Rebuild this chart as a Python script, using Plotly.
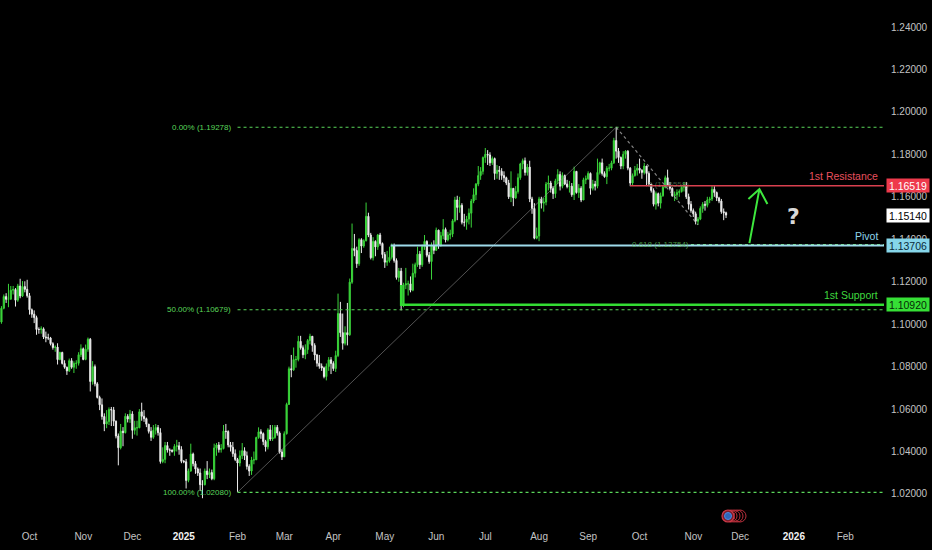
import pandas as pd
import plotly.graph_objects as go

# ---------------- data (EUR/USD daily) ----------------
first_open = 1.1010
closes = [
    1.1075,
    1.1130, 1.1117, 1.1118, 1.1160, 1.1163,
    1.1113, 1.1180, 1.1133, 1.1177, 1.1164,
    1.1134, 1.1068, 1.1047, 1.1031, 1.0975,
    1.0975, 1.0978, 1.0940, 1.0936, 1.0935,
    1.0908, 1.0890, 1.0892, 1.0833, 1.0867,
    1.0815, 1.0797, 1.0780, 1.0828, 1.0797,
    1.0815, 1.0816, 1.0856, 1.0884, 1.0834,
    1.0882, 1.0929, 1.0730, 1.0800, 1.0719,
    1.0655, 1.0620, 1.0565, 1.0530, 1.0541,
    1.0598, 1.0596, 1.0543, 1.0473, 1.0418,
    1.0496, 1.0489, 1.0566, 1.0553, 1.0577,
    1.0500, 1.0512, 1.0512, 1.0587, 1.0566,
    1.0555, 1.0529, 1.0495, 1.0467, 1.0500,
    1.0513, 1.0489, 1.0353, 1.0363, 1.0428,
    1.0407, 1.0406, 1.0401, 1.0424, 1.0427,
    1.0410, 1.0354, 1.0352, 1.0264, 1.0308,
    1.0388, 1.0343, 1.0318, 1.0299, 1.0244,
    1.0244, 1.0308, 1.0291, 1.0301, 1.0272,
    1.0417, 1.0431, 1.0409, 1.0414, 1.0496,
    1.0494, 1.0431, 1.0420, 1.0390, 1.0363,
    1.0346, 1.0380, 1.0404, 1.0380, 1.0330,
    1.0308, 1.0360, 1.0361, 1.0466, 1.0493,
    1.0484, 1.0447, 1.0422, 1.0502, 1.0459,
    1.0466, 1.0514, 1.0487, 1.0398, 1.0375,
    1.0484, 1.0622, 1.0790, 1.0785, 1.0833,
    1.0834, 1.0919, 1.0889, 1.0856, 1.0880,
    1.0923, 1.0943, 1.0900, 1.0855, 1.0816,
    1.0802, 1.0794, 1.0753, 1.0801, 1.0832,
    1.0815, 1.0791, 1.0852, 1.1050, 1.0960,
    1.0910, 1.0960, 1.0950, 1.1198, 1.1357,
    1.1347, 1.1285, 1.1398, 1.1368, 1.1393,
    1.1508, 1.1420, 1.1313, 1.1390, 1.1364,
    1.1420, 1.1380, 1.1328, 1.1292, 1.1298,
    1.1315, 1.1370, 1.1300, 1.1220, 1.1250,
    1.1090, 1.1185, 1.1190, 1.1190, 1.1160,
    1.1240, 1.1280, 1.1330, 1.1280, 1.1365,
    1.1390, 1.1325, 1.1295, 1.1370, 1.1348,
    1.1443, 1.1370, 1.1417, 1.1446, 1.1397,
    1.1420, 1.1425, 1.1487, 1.1585, 1.1550,
    1.1560, 1.1480, 1.1480, 1.1495, 1.1523,
    1.1580, 1.1610, 1.1660, 1.1700, 1.1720,
    1.1785, 1.1800, 1.1797, 1.1760, 1.1780,
    1.1710, 1.1725, 1.1720, 1.1700, 1.1690,
    1.1665, 1.1600, 1.1640, 1.1595, 1.1625,
    1.1690, 1.1755, 1.1770, 1.1715, 1.1740,
    1.1590, 1.1545, 1.1405, 1.1415, 1.1590,
    1.1570, 1.1575, 1.1660, 1.1665, 1.1640,
    1.1615, 1.1675, 1.1705, 1.1650, 1.1700,
    1.1660, 1.1648, 1.1650, 1.1610, 1.1720,
    1.1620, 1.1640, 1.1585, 1.1680, 1.1685,
    1.1710, 1.1640, 1.1660, 1.1650, 1.1715,
    1.1760, 1.1710, 1.1695, 1.1735, 1.1735,
    1.1760, 1.1865, 1.1815, 1.1785, 1.1745,
    1.1800, 1.1815, 1.1735, 1.1665, 1.1700,
    1.1725, 1.1735, 1.1725, 1.1715, 1.1745,
    1.1710, 1.1660, 1.1630, 1.1565, 1.1615,
    1.1570, 1.1605, 1.1645, 1.1690, 1.1655,
    1.1640, 1.1605, 1.1610, 1.1620, 1.1625,
    1.1645, 1.1655, 1.1600, 1.1565, 1.1535,
    1.1520, 1.1485, 1.1495, 1.1545, 1.1565,
    1.1560, 1.1585, 1.1590, 1.1635, 1.1620,
    1.1595, 1.1580, 1.1530, 1.1525, 1.1514,
]
highs = [
    1.1085,
    1.1140, 1.1146, 1.1190, 1.1180, 1.1180,
    1.1170, 1.1190, 1.1214, 1.1203, 1.1202,
    1.1209, 1.1147, 1.1074, 1.1065, 1.1040,
    1.0985, 1.0990, 1.0985, 1.0965, 1.0955,
    1.0940, 1.0915, 1.0900, 1.0910, 1.0870,
    1.0870, 1.0830, 1.0800, 1.0838, 1.0840,
    1.0825, 1.0830, 1.0868, 1.0905, 1.0890,
    1.0904, 1.0937, 1.0935, 1.0826, 1.0810,
    1.0727, 1.0663, 1.0650, 1.0580, 1.0595,
    1.0608, 1.0610, 1.0610, 1.0546, 1.0485,
    1.0530, 1.0515, 1.0580, 1.0576, 1.0596,
    1.0590, 1.0545, 1.0545, 1.0600, 1.0630,
    1.0595, 1.0560, 1.0530, 1.0515, 1.0525,
    1.0530, 1.0525, 1.0510, 1.0420, 1.0445,
    1.0445, 1.0415, 1.0410, 1.0435, 1.0455,
    1.0445, 1.0425, 1.0360, 1.0365, 1.0320,
    1.0437, 1.0395, 1.0355, 1.0325, 1.0320,
    1.0265, 1.0320, 1.0355, 1.0320, 1.0315,
    1.0437, 1.0440, 1.0445, 1.0435, 1.0525,
    1.0530, 1.0500, 1.0445, 1.0445, 1.0410,
    1.0370, 1.0405, 1.0440, 1.0420, 1.0400,
    1.0340, 1.0375, 1.0400, 1.0470, 1.0514,
    1.0505, 1.0490, 1.0455, 1.0510, 1.0525,
    1.0525, 1.0525, 1.0525, 1.0495, 1.0410,
    1.0495, 1.0630, 1.0800, 1.0855, 1.0890,
    1.0850, 1.0945, 1.0945, 1.0900, 1.0905,
    1.0930, 1.0955, 1.0940, 1.0910, 1.0860,
    1.0855, 1.0815, 1.0800, 1.0815, 1.0845,
    1.0845, 1.0825, 1.0875, 1.1144, 1.1105,
    1.1050, 1.0990, 1.1100, 1.1215, 1.1474,
    1.1425, 1.1365, 1.1405, 1.1405, 1.1400,
    1.1573, 1.1525, 1.1430, 1.1410, 1.1395,
    1.1425, 1.1430, 1.1385, 1.1340, 1.1345,
    1.1365, 1.1380, 1.1380, 1.1310, 1.1265,
    1.1265, 1.1195, 1.1265, 1.1205, 1.1225,
    1.1285, 1.1290, 1.1365, 1.1345, 1.1375,
    1.1420, 1.1395, 1.1340, 1.1385, 1.1395,
    1.1455, 1.1445, 1.1435, 1.1495, 1.1455,
    1.1435, 1.1445, 1.1495, 1.1600, 1.1605,
    1.1600, 1.1570, 1.1520, 1.1510, 1.1545,
    1.1590, 1.1640, 1.1665, 1.1745, 1.1740,
    1.1790, 1.1830, 1.1820, 1.1810, 1.1790,
    1.1785, 1.1750, 1.1745, 1.1735, 1.1720,
    1.1695, 1.1680, 1.1720, 1.1640, 1.1650,
    1.1710, 1.1760, 1.1780, 1.1785, 1.1755,
    1.1770, 1.1600, 1.1570, 1.1455, 1.1600,
    1.1600, 1.1595, 1.1670, 1.1700, 1.1675,
    1.1650, 1.1685, 1.1730, 1.1720, 1.1715,
    1.1705, 1.1680, 1.1675, 1.1665, 1.1742,
    1.1720, 1.1660, 1.1650, 1.1690, 1.1700,
    1.1720, 1.1715, 1.1680, 1.1675, 1.1780,
    1.1765, 1.1780, 1.1720, 1.1745, 1.1755,
    1.1770, 1.1878, 1.1924, 1.1830, 1.1790,
    1.1815, 1.1820, 1.1820, 1.1740, 1.1710,
    1.1745, 1.1755, 1.1780, 1.1730, 1.1760,
    1.1745, 1.1720, 1.1660, 1.1640, 1.1625,
    1.1620, 1.1620, 1.1655, 1.1700, 1.1728,
    1.1670, 1.1645, 1.1625, 1.1635, 1.1635,
    1.1655, 1.1670, 1.1670, 1.1615, 1.1580,
    1.1545, 1.1530, 1.1505, 1.1555, 1.1575,
    1.1580, 1.1600, 1.1600, 1.1655, 1.1650,
    1.1625, 1.1600, 1.1590, 1.1545, 1.1530,
]
lows = [
    1.1002,
    1.1070, 1.1100, 1.1080, 1.1115, 1.1140,
    1.1083, 1.1105, 1.1122, 1.1128, 1.1150,
    1.1125, 1.1045, 1.1030, 1.1005, 1.0950,
    1.0955, 1.0955, 1.0930, 1.0915, 1.0925,
    1.0900, 1.0880, 1.0870, 1.0810, 1.0830,
    1.0810, 1.0790, 1.0761, 1.0775, 1.0790,
    1.0770, 1.0790, 1.0805, 1.0845, 1.0830,
    1.0830, 1.0870, 1.0683, 1.0715, 1.0707,
    1.0650, 1.0595, 1.0550, 1.0496, 1.0510,
    1.0525, 1.0520, 1.0520, 1.0462, 1.0335,
    1.0410, 1.0425, 1.0485, 1.0537, 1.0535,
    1.0460, 1.0480, 1.0475, 1.0510, 1.0545,
    1.0540, 1.0515, 1.0485, 1.0450, 1.0460,
    1.0480, 1.0475, 1.0343, 1.0345, 1.0345,
    1.0395, 1.0380, 1.0395, 1.0380, 1.0400,
    1.0385, 1.0345, 1.0345, 1.0226, 1.0255,
    1.0305, 1.0330, 1.0295, 1.0285, 1.0214,
    1.0180, 1.0240, 1.0270, 1.0275, 1.0265,
    1.0265, 1.0380, 1.0395, 1.0395, 1.0410,
    1.0460, 1.0420, 1.0400, 1.0375, 1.0355,
    1.0210, 1.0330, 1.0365, 1.0360, 1.0315,
    1.0285, 1.0290, 1.0340, 1.0360, 1.0460,
    1.0460, 1.0430, 1.0400, 1.0410, 1.0450,
    1.0450, 1.0460, 1.0475, 1.0390, 1.0360,
    1.0375, 1.0480, 1.0620, 1.0750, 1.0780,
    1.0795, 1.0825, 1.0880, 1.0840, 1.0835,
    1.0860, 1.0905, 1.0870, 1.0830, 1.0800,
    1.0790, 1.0780, 1.0745, 1.0735, 1.0780,
    1.0765, 1.0780, 1.0775, 1.0845, 1.0940,
    1.0880, 1.0900, 1.0900, 1.0945, 1.1190,
    1.1320, 1.1265, 1.1275, 1.1335, 1.1360,
    1.1390, 1.1410, 1.1305, 1.1300, 1.1320,
    1.1350, 1.1370, 1.1310, 1.1265, 1.1275,
    1.1290, 1.1305, 1.1290, 1.1210, 1.1200,
    1.1065, 1.1080, 1.1165, 1.1135, 1.1150,
    1.1155, 1.1220, 1.1270, 1.1260, 1.1270,
    1.1350, 1.1315, 1.1285, 1.1210, 1.1330,
    1.1345, 1.1355, 1.1365, 1.1400, 1.1385,
    1.1390, 1.1400, 1.1410, 1.1480, 1.1490,
    1.1525, 1.1470, 1.1460, 1.1445, 1.1470,
    1.1455, 1.1570, 1.1585, 1.1650, 1.1680,
    1.1705, 1.1760, 1.1750, 1.1745, 1.1750,
    1.1680, 1.1685, 1.1680, 1.1680, 1.1670,
    1.1655, 1.1590, 1.1575, 1.1556, 1.1590,
    1.1615, 1.1680, 1.1730, 1.1700, 1.1700,
    1.1575, 1.1520, 1.1400, 1.1400, 1.1391,
    1.1545, 1.1530, 1.1560, 1.1630, 1.1620,
    1.1590, 1.1595, 1.1660, 1.1630, 1.1640,
    1.1655, 1.1640, 1.1620, 1.1600, 1.1585,
    1.1615, 1.1595, 1.1575, 1.1585, 1.1660,
    1.1680, 1.1610, 1.1630, 1.1630, 1.1640,
    1.1705, 1.1700, 1.1690, 1.1660, 1.1720,
    1.1725, 1.1755, 1.1780, 1.1760, 1.1730,
    1.1730, 1.1780, 1.1725, 1.1650, 1.1655,
    1.1695, 1.1700, 1.1710, 1.1685, 1.1705,
    1.1650, 1.1650, 1.1620, 1.1555, 1.1540,
    1.1555, 1.1545, 1.1600, 1.1640, 1.1650,
    1.1630, 1.1600, 1.1580, 1.1585, 1.1600,
    1.1620, 1.1625, 1.1590, 1.1540, 1.1525,
    1.1505, 1.1470, 1.1468, 1.1490, 1.1525,
    1.1535, 1.1550, 1.1570, 1.1580, 1.1600,
    1.1580, 1.1570, 1.1520, 1.1490, 1.1500,
]
first_day = "2024-09-13"
last_day = "2025-11-21"

# axis ticks
x_tick_dates = ["2024-10-01", "2024-11-01", "2024-12-02", "2025-01-01", "2025-02-03",
                "2025-03-03", "2025-04-01", "2025-05-01", "2025-06-02", "2025-07-01",
                "2025-08-01", "2025-09-01", "2025-10-01", "2025-11-03", "2025-12-01",
                "2026-01-01", "2026-02-02"]
x_tick_text = ["Oct", "Nov", "Dec", "<b><span style='color:#f2f2f2'>2025</span></b>", "Feb",
               "Mar", "Apr", "May", "Jun", "Jul", "Aug", "Sep", "Oct", "Nov", "Dec",
               "<b><span style='color:#f2f2f2'>2026</span></b>", "Feb"]
y_ticks = [1.02, 1.04, 1.06, 1.08, 1.10, 1.12, 1.14, 1.16, 1.18, 1.20, 1.22, 1.24]
x_range = ["2024-09-12 09:00", "2026-02-24 14:00"]
y_range = [1.00539, 1.25272]

# drawings
fib_start = "2025-02-03"
fib_levels = [1.19278, 1.10679, 1.02080]
fib_texts = ["0.00% (1.19278)", "50.00% (1.10679)", "100.00% (1.02080)"]
trend_x = ["2025-02-03", "2025-09-17"]
trend_y = [1.02080, 1.19278]
retr_x = ["2025-09-17", "2025-11-05"]
retr_y = [1.19278, 1.14680]
retr_label_day = "2025-10-31"
retr_levels = [1.16558, 1.13754]
retr_texts = ["0 (1.16558)", "0.618 (1.13754)"]
resistance_start, resistance = "2025-09-25", 1.16519
pivot_start, pivot = "2025-05-05 12:00", 1.13706
support_start, support, support_top = "2025-05-12", 1.10920, 1.11850
last_price = 1.15140
arrow_tail = ("2025-12-05", 1.13820)
question_pos = ("2026-01-01", 1.15050)

# ---------------- figure ----------------
dates = pd.bdate_range(first_day, last_day)
assert len(dates) == len(closes) == len(highs) == len(lows)
opens = [first_open] + closes[:-1]

UP = "#3ad43a"
DOWN = "#ececec"
FIBC = "#5ad65a"

fig = go.Figure()

# trend line of the fib tool
fig.add_trace(go.Scatter(x=trend_x, y=trend_y, mode="lines",
                         line=dict(color="rgba(150,150,150,0.55)", width=1),
                         hoverinfo="skip", showlegend=False))
# fib dotted levels
for lvl in fib_levels:
    fig.add_trace(go.Scatter(x=[fib_start, x_range[1]], y=[lvl, lvl], mode="lines",
                             line=dict(color=FIBC, width=1.2, dash="dot"),
                             hoverinfo="skip", showlegend=False))
# second fib: 0.618 dotted level
fig.add_trace(go.Scatter(x=[retr_label_day, x_range[1]], y=[retr_levels[1]] * 2, mode="lines",
                         line=dict(color=FIBC, width=1.2, dash="dot"),
                         hoverinfo="skip", showlegend=False))
# diagonal dotted of second fib
fig.add_trace(go.Scatter(x=retr_x, y=retr_y, mode="lines",
                         line=dict(color="rgba(175,175,175,0.75)", width=1.2, dash="dot"),
                         hoverinfo="skip", showlegend=False))

fig.add_trace(go.Candlestick(
    x=dates, open=opens, high=highs, low=lows, close=closes,
    increasing=dict(line=dict(color=UP, width=1), fillcolor=UP),
    decreasing=dict(line=dict(color=DOWN, width=1), fillcolor=DOWN),
    showlegend=False, hoverinfo="skip"))

# support / pivot / resistance
fig.add_trace(go.Scatter(x=[support_start, support_start, x_range[1]],
                         y=[support_top, support, support], mode="lines",
                         line=dict(color="#33dd33", width=2.5),
                         hoverinfo="skip", showlegend=False))
fig.add_trace(go.Scatter(x=[pivot_start, x_range[1]], y=[pivot, pivot], mode="lines",
                         line=dict(color="#9fdbeb", width=2),
                         hoverinfo="skip", showlegend=False))
fig.add_trace(go.Scatter(x=[resistance_start, x_range[1]], y=[resistance, resistance], mode="lines",
                         line=dict(color="#d9404f", width=1.5),
                         hoverinfo="skip", showlegend=False))

ann = []
FONT = "Liberation Sans"
for lvl, txt in zip(fib_levels, fib_texts):
    ann.append(dict(x=fib_start, y=lvl, xref="x", yref="y", text=txt, showarrow=False,
                    xanchor="right", yanchor="middle", xshift=-5,
                    font=dict(family=FONT, size=8, color=FIBC)))
ann.append(dict(x=retr_label_day, y=retr_levels[0], xref="x", yref="y", text=retr_texts[0],
                showarrow=False, xanchor="right", yanchor="middle",
                font=dict(family=FONT, size=8, color="rgba(110,150,110,0.6)")))
ann.append(dict(x=retr_label_day, y=retr_levels[1], xref="x", yref="y", text=retr_texts[1],
                showarrow=False, xanchor="right", yanchor="middle",
                font=dict(family=FONT, size=8, color="rgba(90,190,90,0.8)")))

for y, txt, col in [(resistance, "1st Resistance", "#e8505e"),
                    (pivot, "Pivot", "#8fd6ea"),
                    (support, "1st Support", "#3fd83f")]:
    ann.append(dict(x=0.9955, y=y, xref="paper", yref="y", text=txt, showarrow=False,
                    xanchor="right", yanchor="bottom", yshift=2,
                    font=dict(family=FONT, size=10.5, color=col)))

for y, txt, bg, fc in [(resistance, "1.16519", "#ee3a4c", "#ffffff"),
                       (last_price, "1.15140", "#ffffff", "#000000"),
                       (pivot, "1.13706", "#86d6ea", "#0b2a38"),
                       (support, "1.10920", "#36e036", "#062806")]:
    ann.append(dict(x=1, y=y, xref="paper", yref="y", text=txt, showarrow=False,
                    xanchor="left", yanchor="middle", xshift=2, width=42, height=13,
                    bgcolor=bg, borderpad=0, align="center",
                    font=dict(family=FONT, size=10.5, color=fc)))

ann.append(dict(x=question_pos[0], y=question_pos[1], xref="x", yref="y", text="<b>?</b>",
                showarrow=False, font=dict(family="DejaVu Sans", size=22, color="#d8d8d8")))

shapes = []
# green arrow
shapes.append(dict(type="path", xref="x", yref="y", xsizemode="pixel", ysizemode="pixel",
                   xanchor=arrow_tail[0], yanchor=arrow_tail[1],
                   path="M0,0 L10,54 M-1,44 L10,54 L18,39",
                   line=dict(color="#3ee83e", width=2)))
# event bubble icon at the bottom
cx, cy = 728 / 884, 9 / 525
for off in [12, 9, 6, 3]:
    shapes.append(dict(type="circle", xref="paper", yref="paper", xsizemode="pixel", ysizemode="pixel",
                       xanchor=cx, yanchor=cy, x0=off - 6, x1=off + 6, y0=-6, y1=6,
                       line=dict(color="#b8303c", width=1), fillcolor="rgba(0,0,0,0)"))
shapes.append(dict(type="circle", xref="paper", yref="paper", xsizemode="pixel", ysizemode="pixel",
                   xanchor=cx, yanchor=cy, x0=-6, x1=6, y0=-6, y1=6,
                   line=dict(color="#d03a48", width=1.2), fillcolor="#7a1c2a"))
shapes.append(dict(type="circle", xref="paper", yref="paper", xsizemode="pixel", ysizemode="pixel",
                   xanchor=cx, yanchor=cy, x0=-3.5, x1=3.5, y0=-3.5, y1=3.5,
                   line=dict(color="#4a8ae0", width=1), fillcolor="#2f66b8"))

fig.update_layout(
    width=932, height=550,
    margin=dict(l=0, r=48, t=0, b=25),
    paper_bgcolor="#000000", plot_bgcolor="#000000",
    showlegend=False,
    annotations=ann, shapes=shapes,
    xaxis=dict(type="date", range=x_range, rangeslider=dict(visible=False),
               rangebreaks=[dict(bounds=["sat", "mon"])],
               showgrid=False, zeroline=False, showline=False,
               tickmode="array", tickvals=x_tick_dates, ticktext=x_tick_text,
               ticks="", ticklabelstandoff=4,
               tickfont=dict(family=FONT, size=10, color="#c4c4c4")),
    yaxis=dict(range=y_range, side="right", showgrid=False, zeroline=False, showline=False,
               tickmode="array", tickvals=y_ticks, ticktext=[f"{v:.5f}" for v in y_ticks],
               ticks="", ticklabelstandoff=6,
               tickfont=dict(family=FONT, size=10, color="#c4c4c4")),
)

fig.write_html("out.html", config={"displayModeBar": False},
               post_script="document.body.style.margin='0px';document.body.style.background='#000';")
